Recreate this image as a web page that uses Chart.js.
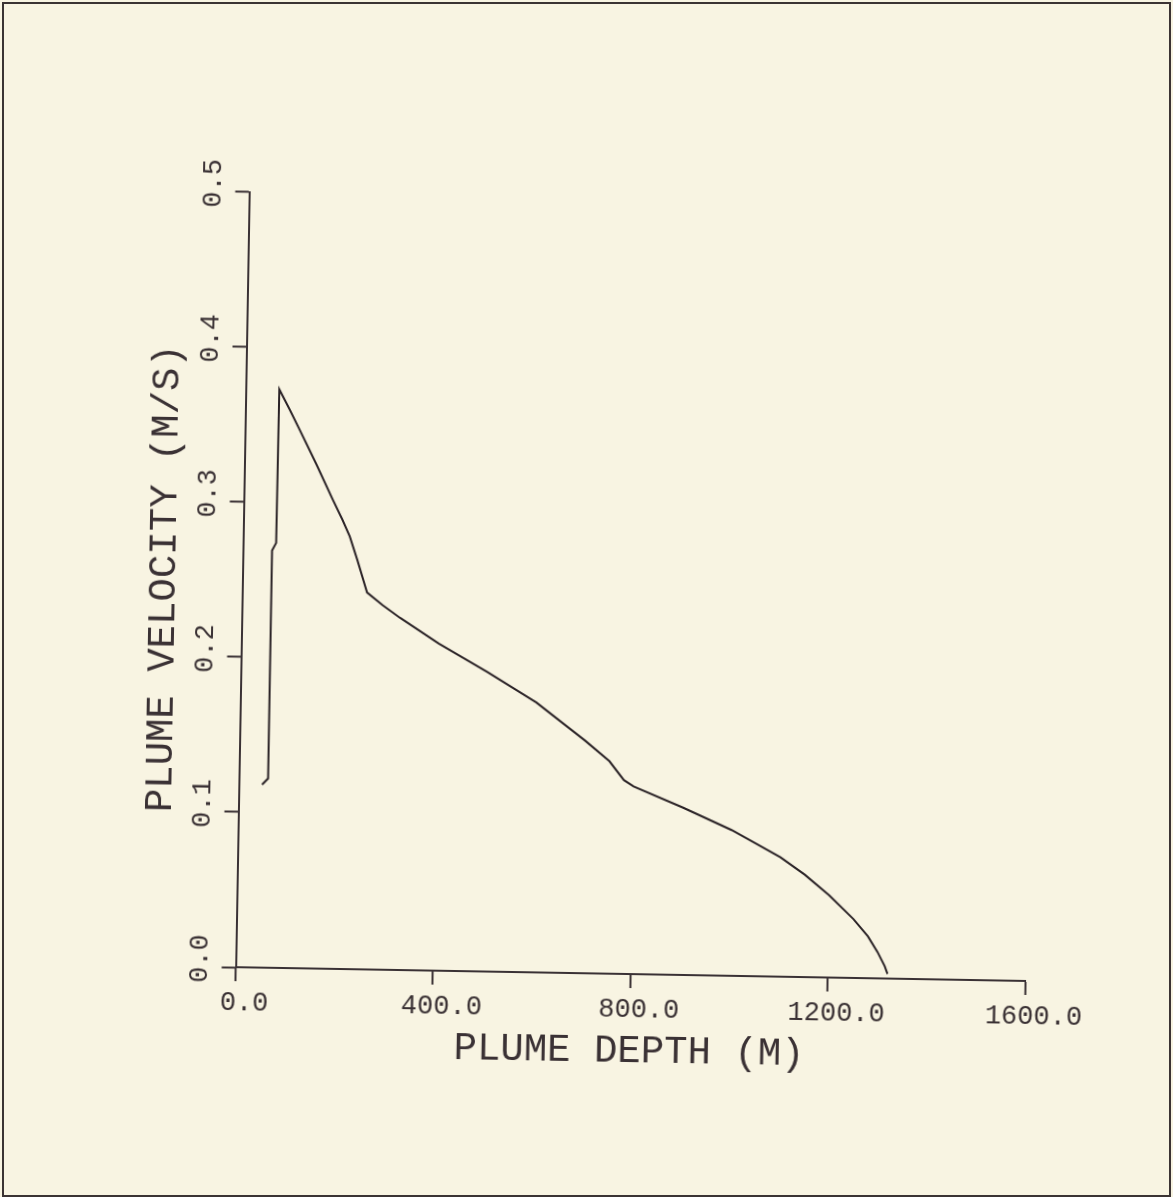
<!DOCTYPE html>
<html lang="en">
<head>
  <meta charset="UTF-8">
  <title>Plume Velocity vs Plume Depth</title>
  <script src="https://cdn.jsdelivr.net/npm/chart.js@4.4.0/dist/chart.umd.min.js"></script>
  <style>
    html, body { margin: 0; padding: 0; background: #f8f4e2; }
    #frame { position: relative; width: 1173px; height: 1197px; overflow: hidden; }
    #border { position: absolute; left: 2px; top: 2px; width: 1169px; height: 1195px; box-sizing: border-box; border: 2px solid #3b3333; }
    /* the scanned plot sits about 1 degree off square */
    #chartBox { position: absolute; left: 0; top: 0; width: 1173px; height: 1197px; transform: rotate(1deg); transform-origin: 630px 580px; }
  </style>
</head>
<body>
  <div id="frame">
    <div id="chartBox"><canvas id="plumeChart" width="1173" height="1197"></canvas></div>
    <div id="border"></div>
  </div>

  <script>
    // values
    const depth = [47, 59, 59, 67, 68, 90, 111, 146, 181, 200, 216, 232, 253, 285, 321, 400, 500, 600, 700, 750, 780,
                   800, 900, 1000, 1100, 1150, 1200, 1250, 1280, 1300, 1315, 1321];
    const velocity = [0.118, 0.122, 0.269, 0.274, 0.373, 0.360, 0.347, 0.325, 0.302, 0.290, 0.279, 0.264, 0.243, 0.235, 0.227, 0.211, 0.193, 0.174, 0.150, 0.137, 0.125,
                      0.121, 0.108, 0.094, 0.077, 0.066, 0.053, 0.038, 0.027, 0.017, 0.008, 0.003];
    const xTicks = [0, 400, 800, 1200, 1600];
    const yTicks = [0, 0.1, 0.2, 0.3, 0.4, 0.5];

    const ink = '#3a3134';
    const fontFamily = '"Liberation Mono", "DejaVu Sans Mono", monospace';

    const points = depth.map((d, i) => ({ x: d, y: velocity[i] }));

    new Chart(document.getElementById('plumeChart'), {
      type: 'line',
      data: {
        datasets: [{
          data: points,
          borderColor: '#2a2226',
          borderWidth: 2,
          pointRadius: 0,
          tension: 0,
          fill: false
        }]
      },
      options: {
        responsive: false,
        animation: false,
        devicePixelRatio: 1,
        layout: { padding: { left: 141, right: 141, top: 198.6, bottom: 122 } },
        plugins: { legend: { display: false }, tooltip: { enabled: false } },
        scales: {
          x: {
            type: 'linear',
            min: xTicks[0],
            max: xTicks[xTicks.length - 1],
            afterBuildTicks: s => { s.ticks = xTicks.map(v => ({ value: v })); },
            afterFit: s => { s.height = 101; },
            grid: { drawOnChartArea: false, drawTicks: true, tickLength: 14, tickColor: ink, tickWidth: 2 },
            border: { display: true, color: ink, width: 2 },
            ticks: {
              color: ink,
              font: { family: fontFamily, size: 27 },
              padding: 6,
              labelOffset: 9,
              maxRotation: 0,
              callback: v => Number(v).toFixed(1)
            },
            title: {
              display: true,
              text: 'PLUME DEPTH (M)',
              color: ink,
              font: { family: fontFamily, size: 39 },
              padding: 0
            }
          },
          y: {
            type: 'linear',
            min: yTicks[0],
            max: yTicks[yTicks.length - 1],
            afterBuildTicks: s => { s.ticks = yTicks.map(v => ({ value: v })); },
            afterFit: s => { s.width = 101.5; },
            grid: { drawOnChartArea: false, drawTicks: true, tickLength: 14, tickColor: ink, tickWidth: 2 },
            border: { display: true, color: ink, width: 2 },
            ticks: {
              color: ink,
              font: { family: fontFamily, size: 27 },
              minRotation: 90,
              maxRotation: 90,
              crossAlign: 'center',
              padding: -2.5,
              labelOffset: -8,
              callback: v => Number(v).toFixed(1)
            },
            title: {
              display: true,
              text: 'PLUME VELOCITY (M/S)',
              color: ink,
              font: { family: fontFamily, size: 39 },
              padding: 0
            }
          }
        }
      }
    });
  </script>
</body>
</html>
